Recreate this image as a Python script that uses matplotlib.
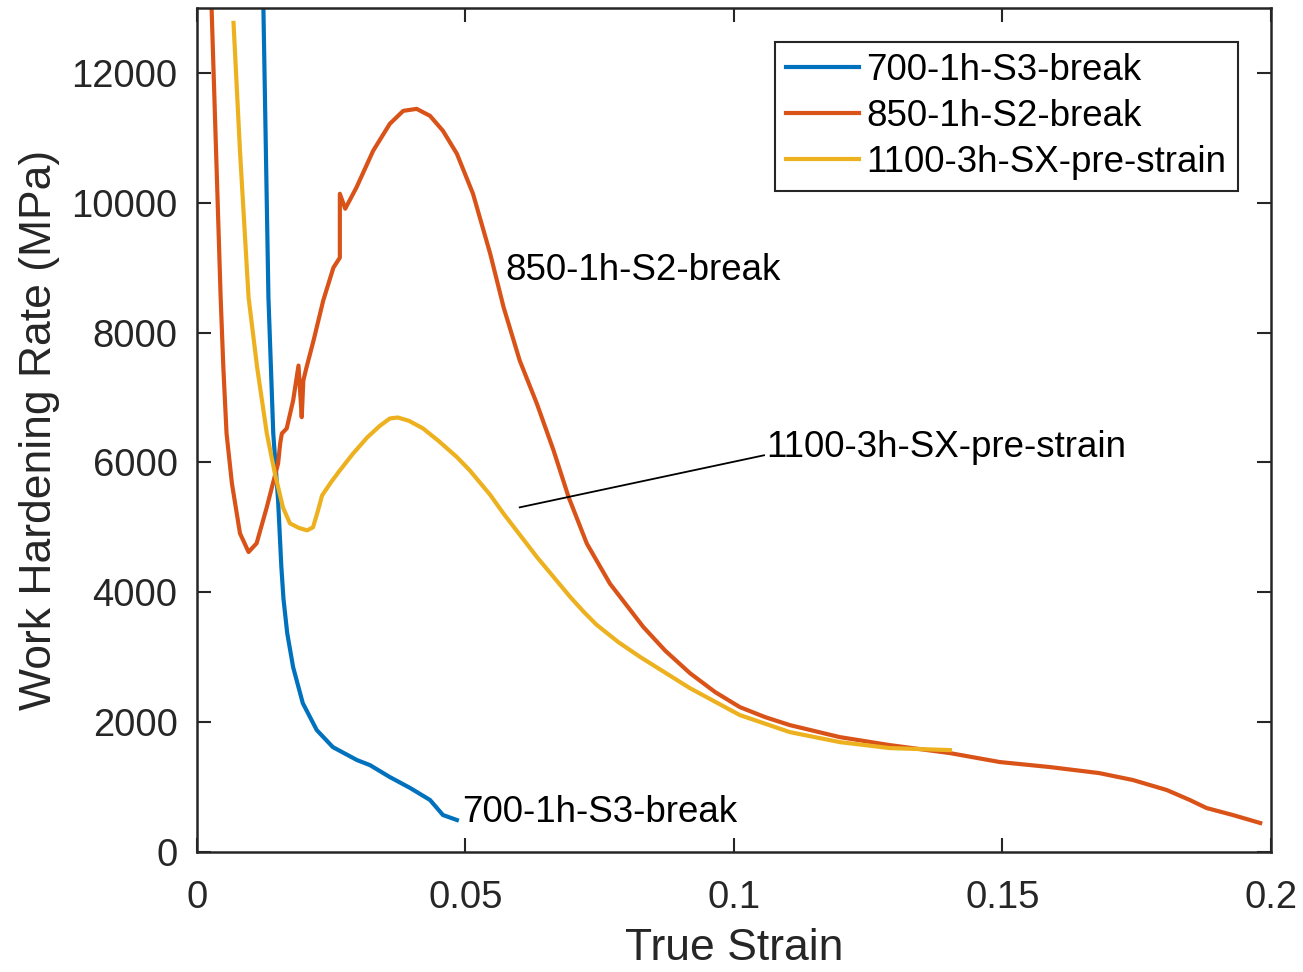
import matplotlib
matplotlib.use("Agg")
import matplotlib.pyplot as plt

plt.rcParams['font.family'] = ['Liberation Sans', 'DejaVu Sans']

# ---- data ----
x_700 = [0.0123, 0.0133, 0.0142, 0.0151, 0.0157, 0.0161, 0.0168, 0.0179, 0.0197,
         0.0223, 0.0253, 0.0298, 0.0322, 0.0359, 0.0397, 0.0434, 0.0458, 0.0484]
y_700 = [13300, 8543, 6446, 5415, 4400, 3900, 3369, 2846, 2292,
         1877, 1615, 1415, 1338, 1154, 985, 800, 569, 492]

x_850 = [0.0026, 0.0044, 0.0049, 0.0055, 0.0065, 0.0080, 0.0096, 0.0111, 0.0130,
         0.0151, 0.0155, 0.0158, 0.0167, 0.0179, 0.0189, 0.0195, 0.0198, 0.0204,
         0.0217, 0.0235, 0.0254, 0.0266, 0.0266, 0.0276, 0.0297, 0.0328, 0.0359,
         0.0384, 0.0409, 0.0434, 0.0458, 0.0484, 0.0514, 0.0546, 0.0571, 0.0601,
         0.0633, 0.0664, 0.0692, 0.0726, 0.0769, 0.0831, 0.0872, 0.0918, 0.0965,
         0.1011, 0.1058, 0.1104, 0.1197, 0.1290, 0.1402, 0.1495, 0.1588, 0.1680,
         0.1743, 0.1806, 0.1849, 0.1880, 0.1929, 0.1980]
y_850 = [13300, 8543, 7467, 6446, 5677, 4908, 4620, 4754, 5312,
         5985, 6300, 6446, 6523, 6954, 7492, 6697, 7262, 7467,
         7877, 8492, 9000, 9154, 10138, 9908, 10236, 10800, 11215,
         11415, 11446, 11338, 11108, 10754, 10138, 9215, 8389, 7569,
         6903, 6185, 5466, 4749, 4133, 3467, 3100, 2754, 2462,
         2231, 2077, 1954, 1769, 1646, 1523, 1385, 1308, 1215,
         1108, 954, 800, 677, 569, 446]

x_1100 = [0.0068, 0.0080, 0.0096, 0.0112, 0.0130, 0.0145, 0.0160, 0.0173, 0.0190,
          0.0205, 0.0216, 0.0225, 0.0233, 0.0250, 0.0266, 0.0290, 0.0317, 0.0340,
          0.0359, 0.0374, 0.0395, 0.0421, 0.0450, 0.0484, 0.0508, 0.0546, 0.0571,
          0.0633, 0.0695, 0.0720, 0.0744, 0.0785, 0.0825, 0.0918, 0.1011, 0.1104,
          0.1197, 0.1290, 0.1402]
y_1100 = [12770, 10800, 8543, 7462, 6446, 5831, 5308, 5062, 4990,
          4954, 5000, 5250, 5492, 5700, 5877, 6130, 6385, 6560,
          6677, 6692, 6640, 6523, 6330, 6082, 5877, 5500, 5210,
          4543, 3928, 3700, 3500, 3230, 3005, 2523, 2108, 1846,
          1692, 1600, 1569]

labels = ['700-1h-S3-break', '850-1h-S2-break', '1100-3h-SX-pre-strain']
colors = ['#0072BD', '#D95319', '#EDB120']
x_ticks = [0, 0.05, 0.1, 0.15, 0.2]
x_ticklabels = ['0', '0.05', '0.1', '0.15', '0.2']
y_ticks = [0, 2000, 4000, 6000, 8000, 10000, 12000]

# ---- figure ----
fig = plt.figure(figsize=(13.03, 9.72), dpi=100)
ax = fig.add_axes([0.1512, 0.1235, 0.8242, 0.8683])

lw = 3.0
ax.plot(x_700, y_700, color=colors[0], lw=lw, label=labels[0])
ax.plot(x_850, y_850, color=colors[1], lw=lw, label=labels[1])
ax.plot(x_1100, y_1100, color=colors[2], lw=lw, label=labels[2])

ax.set_xlim(0, 0.2)
ax.set_ylim(0, 13000)
ax.set_xticks(x_ticks)
ax.set_xticklabels(x_ticklabels)
ax.set_yticks(y_ticks)

edge = '#262626'
for s in ax.spines.values():
    s.set_color(edge)
    s.set_linewidth(1.8)
ax.tick_params(axis='both', direction='in', length=10, width=1.5, colors=edge,
               labelsize=27.5, top=True, right=True)
ax.tick_params(axis='x', pad=20)
ax.tick_params(axis='y', pad=14)

ax.set_xlabel('True Strain', fontsize=32, color=edge, labelpad=9)
ax.set_ylabel('Work Hardening Rate (MPa)', fontsize=32, color=edge, labelpad=8)

# annotations
ax.text(0.0574, 8950, '850-1h-S2-break', fontsize=26.5, color='black',
        ha='left', va='center')
ax.text(0.0493, 615, '700-1h-S3-break', fontsize=26.5, color='black',
        ha='left', va='center')
ax.plot([0.0601, 0.1056], [5308, 6110], color='black', lw=1.3)
ax.text(0.1060, 6230, '1100-3h-SX-pre-strain', fontsize=26.5, color='black',
        ha='left', va='center')

leg = ax.legend(loc='upper right', bbox_to_anchor=(0.969, 0.9597),
                borderaxespad=0, fontsize=26.5, fancybox=False, framealpha=1,
                edgecolor=edge, handlelength=2.0, handletextpad=0.2,
                labelspacing=0.3, borderpad=0.3)
leg.get_frame().set_linewidth(1.5)

fig.savefig('out.png', dpi=100)
